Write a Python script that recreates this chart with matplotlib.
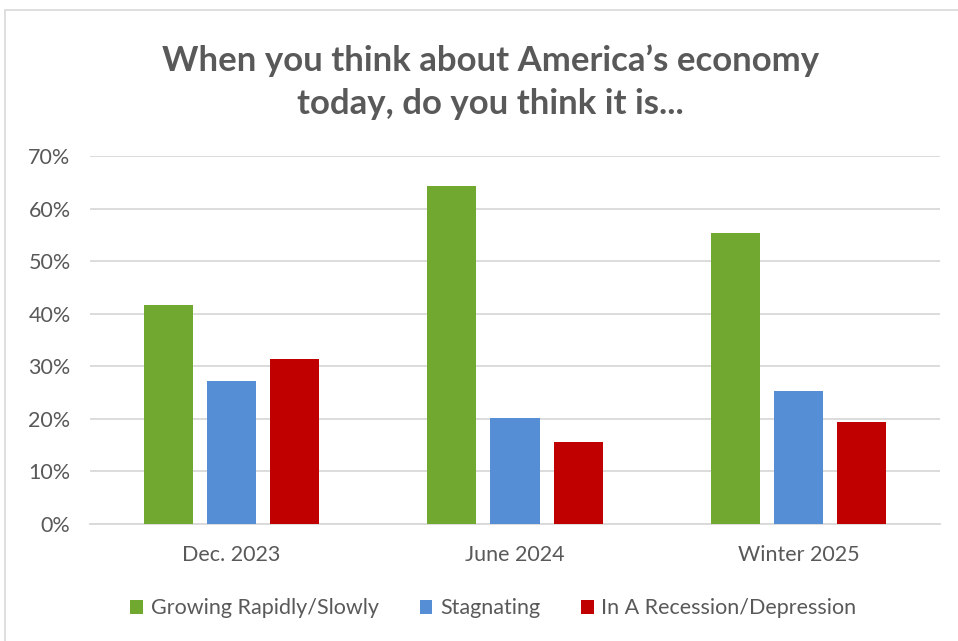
import numpy as np
import matplotlib.pyplot as plt
from matplotlib.patches import Rectangle
from matplotlib.ticker import PercentFormatter

# Data
periods = ['Dec. 2023', 'June 2024', 'Winter 2025']
series_names = ['Growing Rapidly/Slowly', 'Stagnating', 'In A Recession/Depression']
growing = [41.6, 64.3, 55.3]
stagnating = [27.2, 20.1, 25.3]
recession = [31.3, 15.6, 19.4]
colors = ['#70A830', '#558ED5', '#C00000']

plt.rcParams['font.family'] = ['Lato', 'DejaVu Sans']
text_grey = '#595959'

fig = plt.figure(figsize=(9.58, 6.41), dpi=100)
ax = fig.add_axes([90 / 958, 1 - 524 / 641, 850 / 958, 368 / 641])

# chart-area border
fig.patches.append(Rectangle((5 / 958, -0.01), 1.0, 1 - 10 / 641 + 0.01,
                             transform=fig.transFigure, fill=False,
                             edgecolor='#D9D9D9', linewidth=1.2))

x = np.arange(len(periods))
width = 0.173
step = 0.223
for i, (vals, name) in enumerate(zip([growing, stagnating, recession], series_names)):
    ax.bar(x + (i - 1) * step, vals, width, color=colors[i], label=name, zorder=3)

ax.set_xlim(-0.5, 2.5)
ax.set_ylim(0, 70)
ax.set_yticks(np.arange(0, 71, 10))
ax.yaxis.set_major_formatter(PercentFormatter(decimals=0))
ax.set_xticks(x)
ax.set_xticklabels(periods)
ax.grid(axis='y', color='#D9D9D9', linewidth=1.3, zorder=0)
for s in ['top', 'right', 'left']:
    ax.spines[s].set_visible(False)
ax.spines['bottom'].set_color('#D9D9D9')
ax.spines['bottom'].set_linewidth(1.3)
ax.tick_params(axis='both', length=0, labelsize=15.5, colors=text_grey)
ax.tick_params(axis='y', pad=14)
ax.tick_params(axis='x', pad=15)

fig.text(0.512, 0.872, 'When you think about America\u2019s economy\ntoday, do you think it is...',
         ha='center', va='center', fontsize=25, fontweight='bold', color=text_grey,
         linespacing=1.45)

fig.legend(loc='center', bbox_to_anchor=(0.515, 0.051), ncol=3, frameon=False,
           fontsize=15.5, labelcolor=text_grey, handlelength=0.6, handleheight=0.6,
           handletextpad=0.35, columnspacing=1.9)

fig.savefig('out.png', dpi=100)
